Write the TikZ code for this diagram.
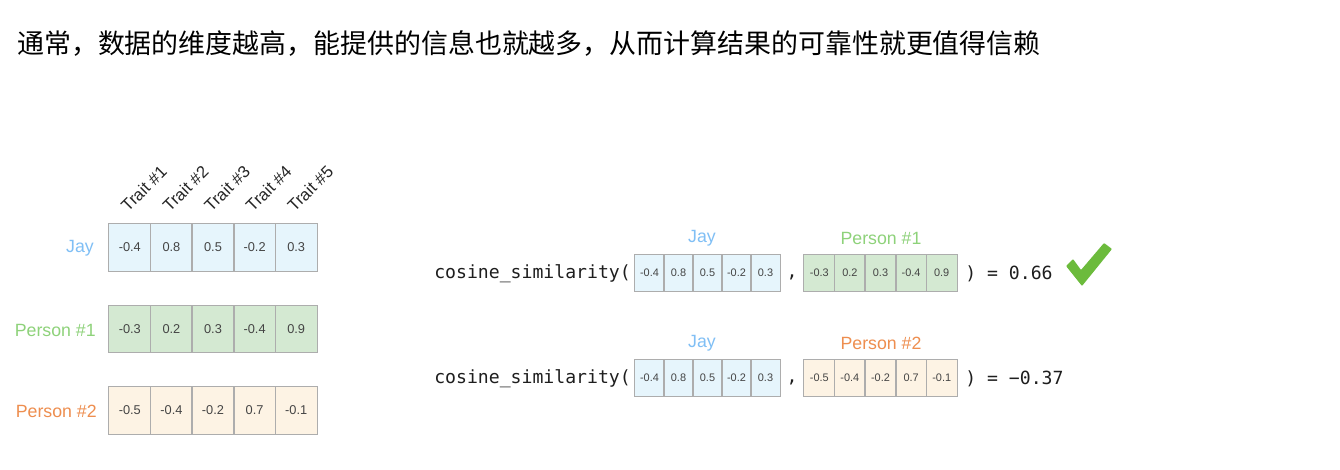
\documentclass[tikz,border=0pt]{standalone}
\usepackage{fontspec}
\setmainfont{Liberation Sans}
\newfontfamily\cjk{Noto Sans CJK SC}
\newfontfamily\monof{DejaVu Sans Mono}
\definecolor{jayfill}{HTML}{E6F5FC}
\definecolor{pafill}{HTML}{D4E9D2}
\definecolor{pbfill}{HTML}{FDF3E4}
\definecolor{jaytxt}{HTML}{80BFF5}
\definecolor{patxt}{HTML}{8ED27A}
\definecolor{pbtxt}{HTML}{EE8E4F}
\definecolor{numtxt}{HTML}{444444}
\definecolor{cellline}{HTML}{ADADAD}
\definecolor{checkc}{HTML}{6CBB3C}
\definecolor{monotxt}{HTML}{1E1E1E}
\begin{document}
\begin{tikzpicture}[x=0.75pt,y=-0.75pt,
  bigcell/.style={minimum width=31.2pt, minimum height=35.5pt, inner sep=0pt, text=numtxt, font=\fontsize{9.6}{11}\selectfont},
  smallcell/.style={minimum height=27pt, inner sep=0pt, text=numtxt, font=\fontsize{8.2}{10}\selectfont},
  cellborder/.style={draw=cellline, line width=0.8pt},
  rowlabel/.style={anchor=east, inner sep=0pt, font=\fontsize{13.3}{15}\selectfont},
  veclabel/.style={inner sep=0pt, font=\fontsize{13.3}{15}\selectfont},
  traitlabel/.style={anchor=base west, rotate=45, inner sep=0pt, text=black!85, font=\fontsize{12.6}{14}\selectfont},
  mono/.style={inner sep=0pt, text=monotxt, font=\monof\fontsize{13.6}{16}\selectfont}]
\useasboundingbox (0,0) rectangle (1340,470);
\fill[white] (0,0) rectangle (1340,470);

% title
\node[anchor=west, inner sep=0pt, font=\cjk\fontsize{20.2}{24}\selectfont] (title) at (17,43)
  {通常，数据的维度越高，能提供的信息也就越多，从而计算结果的可靠性就更值得信赖};

% left table
\foreach \v [count=\i] in {-0.4,0.8,0.5,-0.2,0.3}
  \node[bigcell, fill=jayfill] (J\i) at ({109+(\i-0.5)*41.6},247.5) {\v};
\foreach \v [count=\i] in {-0.3,0.2,0.3,-0.4,0.9}
  \node[bigcell, fill=pafill] (A\i) at ({109+(\i-0.5)*41.6},329) {\v};
\foreach \v [count=\i] in {-0.5,-0.4,-0.2,0.7,-0.1}
  \node[bigcell, fill=pbfill] (B\i) at ({109+(\i-0.5)*41.6},410.5) {\v};
\foreach \r in {J,A,B}
  \foreach \i in {1,...,5}
    \draw[cellborder] (\r\i.north west) rectangle (\r\i.south east);
\foreach \i in {1,...,5}
  \node[traitlabel] (T\i) at ({109+(\i-1)*41.6+19},213) {Trait \#\i};
\node[rowlabel, text=jaytxt] (lJ) at (94,248) {Jay};
\node[rowlabel, text=patxt] (lA) at (96,330) {Person \#1};
\node[rowlabel, text=pbtxt] (lB) at (97,411) {Person \#2};

% right, row 1
\node[mono, anchor=west] (cs1) at (434,274) {cosine\_similarity(};
\foreach \v [count=\i] in {-0.4,0.8,0.5,-0.2,0.3}
  \node[smallcell, minimum width=21.75pt, fill=jayfill] (RJa\i) at ({635+(\i-0.5)*29},273) {\v};
\node[mono] (cm1) at (792,277) {,};
\foreach \v [count=\i] in {-0.3,0.2,0.3,-0.4,0.9}
  \node[smallcell, minimum width=22.9pt, fill=pafill] (RA\i) at ({804+(\i-0.5)*30.6},273) {\v};
\foreach \r in {RJa,RA}
  \foreach \i in {1,...,5}
    \draw[cellborder] (\r\i.north west) rectangle (\r\i.south east);
\node[mono, anchor=west] (res1) at (965,274) {) = 0.66};
\node[veclabel, text=jaytxt] (lRJa) at (702,238) {Jay};
\node[veclabel, text=patxt] (lRA) at (881,238) {Person \#1};
\fill[checkc, rounded corners=0.6pt] (1066,266) -- (1073,259) -- (1081,270) -- (1104,243) -- (1112,249) -- (1082,286) -- cycle;

% right, row 2
\node[mono, anchor=west] (cs2) at (434,379) {cosine\_similarity(};
\foreach \v [count=\i] in {-0.4,0.8,0.5,-0.2,0.3}
  \node[smallcell, minimum width=21.75pt, fill=jayfill] (RJb\i) at ({635+(\i-0.5)*29},378) {\v};
\node[mono] (cm2) at (792,382) {,};
\foreach \v [count=\i] in {-0.5,-0.4,-0.2,0.7,-0.1}
  \node[smallcell, minimum width=22.9pt, fill=pbfill] (RB\i) at ({804+(\i-0.5)*30.6},378) {\v};
\foreach \r in {RJb,RB}
  \foreach \i in {1,...,5}
    \draw[cellborder] (\r\i.north west) rectangle (\r\i.south east);
\node[mono, anchor=west] (res2) at (965,379) {) = −0.37};
\node[veclabel, text=jaytxt] (lRJb) at (702,343) {Jay};
\node[veclabel, text=pbtxt] (lRB) at (881,343) {Person \#2};
\end{tikzpicture}
\end{document}
